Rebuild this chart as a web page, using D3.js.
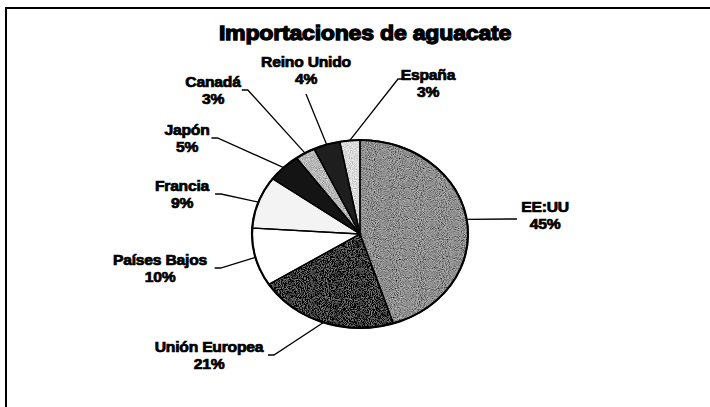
<!DOCTYPE html>
<html>
<head>
<meta charset="utf-8">
<script src="https://cdn.jsdelivr.net/npm/d3@7"></script>
<style>
  body { margin: 0; background: #fff; }
  text { font-family: "Liberation Sans", Arial, sans-serif; font-weight: bold; fill: #000; }
</style>
</head>
<body>
<script>
// avocado imports by country, share of total (%)
var categories = ["EE:UU", "Unión Europea", "Países Bajos", "Francia", "Japón", "Canadá", "Reino Unido", "España"];
var values = [45, 21, 10, 9, 5, 3, 4, 3];
var pctLabels = ["45%", "21%", "10%", "9%", "5%", "3%", "4%", "3%"];

// grey shades standing in for the scanned patterns
var fills = ["#8e8e8e", "#383838", "#ffffff", "#f3f3f3", "#141414", "#b8b8b8", "#1e1e1e", "#dadada"];
var grainy = [true, true, false, false, false, true, false, true];
// where each label block sits (centre x, first baseline) and which side the leader leaves from
var labelPos = [[545, 212, "left"], [209, 352, "right"], [160, 265, "right"], [182, 191, "right"],
                [187, 135, "right"], [213, 87, "right"], [306, 67, "below"], [428, 80, "left"]];

var width = 710, height = 407;
var cx = 360, cy = 234, r = 94, sx = 1.149;

var svg = d3.select("body").append("svg")
    .attr("width", width)
    .attr("height", height);

// speckle, a bit like the printed pattern in the scan
var grain = svg.append("defs").append("filter")
    .attr("id", "grain")
    .attr("x", 0).attr("y", 0).attr("width", 1).attr("height", 1);
grain.append("feTurbulence")
    .attr("type", "fractalNoise")
    .attr("baseFrequency", 1.1)
    .attr("numOctaves", 1)
    .attr("seed", 4)
    .attr("result", "noise");
grain.append("feColorMatrix")
    .attr("in", "noise")
    .attr("type", "matrix")
    .attr("values", "1 0 0 0 0  1 0 0 0 0  1 0 0 0 0  0 0 0 0 1")
    .attr("result", "grey");
grain.append("feComposite")
    .attr("in", "SourceGraphic")
    .attr("in2", "grey")
    .attr("operator", "arithmetic")
    .attr("k1", 0).attr("k2", 1).attr("k3", 0.9).attr("k4", -0.45)
    .attr("result", "mixed");
grain.append("feComposite")
    .attr("in", "mixed")
    .attr("in2", "SourceAlpha")
    .attr("operator", "in");

// frame (only the top and left edges show in the scan)
svg.append("path")
    .attr("d", "M6,407 L6,8 L710,8")
    .attr("fill", "none")
    .attr("stroke", "#000")
    .attr("stroke-width", 2);

svg.append("text")
    .attr("transform", "translate(365,40) scale(1.1,1)")
    .attr("text-anchor", "middle")
    .attr("font-size", "21px")
    .attr("letter-spacing", "-0.2px")
    .attr("stroke", "#000")
    .attr("stroke-width", 1.3)
    .text("Importaciones de aguacate");

var pie = d3.pie().sort(null).value(function (d) { return d; });
var arcs = pie(values);
var arc = d3.arc().innerRadius(0).outerRadius(r);

var pieGroup = svg.append("g")
    .attr("transform", "translate(" + cx + "," + cy + ") scale(" + sx + ",1)");

pieGroup.selectAll("path.fill")
    .data(arcs)
    .enter()
    .append("path")
    .attr("class", "fill")
    .attr("d", arc)
    .attr("fill", function (d, i) { return fills[i]; })
    .attr("filter", function (d, i) { return grainy[i] ? "url(#grain)" : null; });

pieGroup.selectAll("path.edge")
    .data(arcs)
    .enter()
    .append("path")
    .attr("class", "edge")
    .attr("d", arc)
    .attr("fill", "none")
    .attr("stroke", "#000")
    .attr("stroke-width", 1.3)
    .attr("vector-effect", "non-scaling-stroke");

pieGroup.append("ellipse")
    .attr("rx", r).attr("ry", r)
    .attr("fill", "none")
    .attr("stroke", "#000")
    .attr("stroke-width", 2.2)
    .attr("vector-effect", "non-scaling-stroke");

// leader lines from each label to the middle of its slice edge
function edgePoint(d) {
    var a = (d.startAngle + d.endAngle) / 2;
    return [cx + r * sx * Math.sin(a), cy - r * Math.cos(a)];
}

var leaders = svg.append("g");
arcs.forEach(function (d, i) {
    var p = labelPos[i], e = edgePoint(d), pts;
    if (p[2] == "left") {
        var lx = p[0] - 28, ly = p[1] + 7;
        if (i == 7) { lx = p[0] - 24; ly = p[1] - 1; }
        pts = [[lx, ly], [lx - 6, ly], e];
    } else if (p[2] == "right") {
        var half = categories[i].length * 4.3;
        var rx = p[0] + half + 3, ry = p[1] + 3;
        pts = [[rx, ry], [rx + 6, ry], e];
    } else {
        pts = [[p[0], p[1] + 27], e];
    }
    leaders.append("path")
        .attr("d", d3.line()(pts))
        .attr("fill", "none")
        .attr("stroke", "#000")
        .attr("stroke-width", 1.3);
});

var labels = svg.selectAll("g.lbl")
    .data(arcs)
    .enter()
    .append("g")
    .attr("class", "lbl")
    .attr("transform", function (d, i) { return "translate(" + labelPos[i][0] + "," + labelPos[i][1] + ") scale(1.12,1)"; });

labels.append("text")
    .attr("text-anchor", "middle")
    .attr("font-size", "14px")
    .attr("letter-spacing", "-0.2px")
    .attr("stroke", "#000")
    .attr("stroke-width", 0.7)
    .text(function (d, i) { return categories[i]; });

labels.append("text")
    .attr("text-anchor", "middle")
    .attr("y", 17)
    .attr("font-size", "14px")
    .attr("letter-spacing", "-0.2px")
    .attr("stroke", "#000")
    .attr("stroke-width", 0.7)
    .text(function (d, i) { return pctLabels[i]; });
</script>
</body>
</html>
